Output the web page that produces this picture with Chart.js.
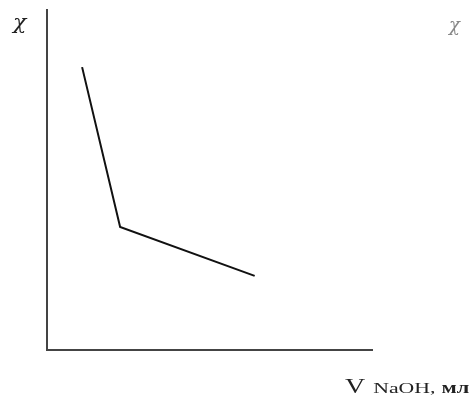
<!DOCTYPE html>
<html>
<head>
<meta charset="utf-8">
<script src="https://cdn.jsdelivr.net/npm/chart.js@4/dist/chart.umd.min.js"></script>
<style>
  html, body { margin: 0; padding: 0; background: #fff; }
  #wrap { width: 473px; height: 403px; position: relative; }
</style>
</head>
<body>
<div id="wrap"><canvas id="chart"></canvas></div>
<script>
// volume of NaOH (arbitrary units) and conductivity (arbitrary units)
const volume = [1.08, 2.25, 6.39];
const conductivity = [8.32, 3.62, 2.18];
const yLabel = 'χ';
const xLabelMain = 'V';
const xLabelSub = 'NaOH,';
const xLabelUnit = 'мл';

const SERIF = '"Liberation Serif", "DejaVu Serif", serif';
const GREEK = '"DejaVu Serif", serif';

// draw text stretched horizontally, like the scanned figure
function wideText(ctx, text, x, y, sx) {
    ctx.save();
    ctx.translate(x, y);
    ctx.scale(sx, 1);
    ctx.fillText(text, 0, 0);
    const w = ctx.measureText(text).width * sx;
    ctx.restore();
    return w;
}

// labels drawn next to the axes
const axisText = {
    id: 'axisText',
    afterDraw(chart) {
        const ctx = chart.ctx;
        ctx.save();
        ctx.textBaseline = 'alphabetic';
        ctx.fillStyle = '#222';
        ctx.font = 'italic 20px ' + GREEK;
        wideText(ctx, yLabel, 13, 29, 1.1);
        ctx.fillStyle = '#888';
        ctx.font = 'italic 18px ' + GREEK;
        wideText(ctx, yLabel, 449, 31, 1.0);

        ctx.fillStyle = '#222';
        let x = 345;
        ctx.font = '20px ' + SERIF;
        x += wideText(ctx, xLabelMain, x, 393, 1.4) + 8;
        ctx.font = '15px ' + SERIF;
        x += wideText(ctx, xLabelSub, x, 393, 1.45) + 6;
        ctx.font = 'bold 16px ' + SERIF;
        wideText(ctx, xLabelUnit, x, 393, 1.4);
        ctx.restore();
    }
};

new Chart(document.getElementById('chart'), {
    type: 'line',
    data: {
        datasets: [{
            data: volume.map((v, i) => ({ x: v, y: conductivity[i] })),
            borderColor: '#111',
            borderWidth: 2,
            pointRadius: 0,
            tension: 0,
            fill: false
        }]
    },
    options: {
        responsive: true,
        maintainAspectRatio: false,
        animation: false,
        layout: { padding: { left: 47, top: 10, right: 101, bottom: 53 } },
        plugins: { legend: { display: false }, tooltip: { enabled: false } },
        scales: {
            x: {
                type: 'linear', min: 0, max: 10,
                grid: { display: false, drawTicks: false },
                ticks: { display: false },
                border: { color: '#444', width: 2 }
            },
            y: {
                type: 'linear', min: 0, max: 10,
                grid: { display: false, drawTicks: false },
                ticks: { display: false },
                border: { color: '#444', width: 2 }
            }
        }
    },
    plugins: [axisText]
});
</script>
</body>
</html>
